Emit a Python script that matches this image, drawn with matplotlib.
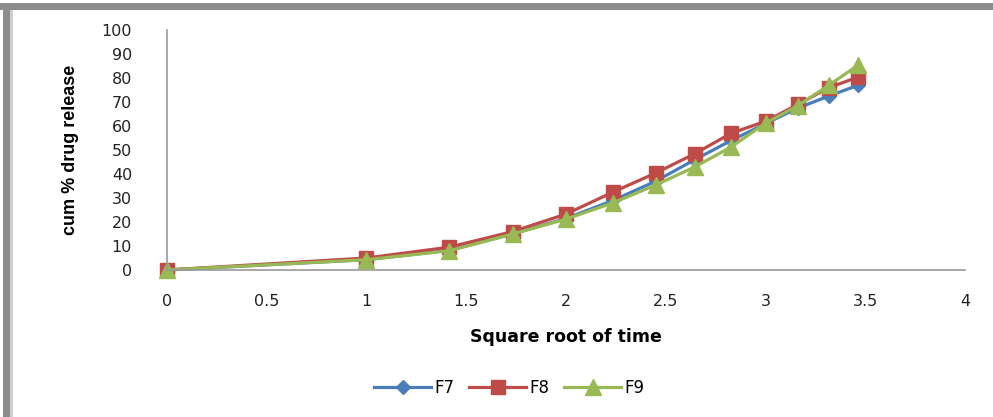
import matplotlib
matplotlib.use("Agg")
import matplotlib.pyplot as plt
from matplotlib import patches

# square root of time (h^0.5)
sqrt_time = [0, 1, 1.414, 1.732, 2, 2.236, 2.449, 2.646, 2.828, 3, 3.162, 3.317, 3.464]
f7 = [0, 4.3, 8.2, 15, 21.5, 29, 37, 46, 54, 61, 67.5, 72.5, 77]
f8 = [0, 5, 9.5, 16, 23.3, 32.5, 40.4, 48.5, 57, 62, 69, 76, 80.4]
f9 = [0, 4.3, 8, 15, 21.2, 28, 35.4, 43, 51.3, 61.2, 68.5, 77, 85.4]

x_ticks = [0, 0.5, 1, 1.5, 2, 2.5, 3, 3.5, 4]
x_labels = ["0", "0.5", "1", "1.5", "2", "2.5", "3", "3.5", "4"]
y_ticks = list(range(0, 101, 10))

plt.rcParams["font.family"] = ["DejaVu Sans"]

fig = plt.figure(figsize=(9.93, 4.17), dpi=100)
ax = fig.add_axes([0.168, 0.3525, 0.804, 0.5755])

ax.plot(sqrt_time, f7, color="#4A7EBB", lw=2.3, marker="D", ms=7, label="F7", clip_on=False)
ax.plot(sqrt_time, f8, color="#BE4B48", lw=2.3, marker="s", ms=10, label="F8", clip_on=False)
ax.plot(sqrt_time, f9, color="#98B954", lw=2.3, marker="^", ms=11, label="F9", clip_on=False)

ax.set_xlim(0, 4)
ax.set_ylim(0, 100)
ax.set_xticks(x_ticks)
ax.set_xticklabels(x_labels)
ax.set_yticks(y_ticks)
ax.tick_params(axis="both", length=0, labelsize=11.5, colors="#222222")
ax.tick_params(axis="x", pad=17)
ax.tick_params(axis="y", pad=25)

for side in ["top", "right"]:
    ax.spines[side].set_visible(False)
for side in ["left", "bottom"]:
    ax.spines[side].set_color("#999999")
    ax.spines[side].set_linewidth(1.2)

ax.set_xlabel("Square root of time", fontsize=12.5, fontweight="bold", labelpad=14)
ax.set_ylabel("cum % drug release", family="Liberation Sans",
              fontsize=13, fontweight="bold", labelpad=16)

leg = fig.legend(loc="center", bbox_to_anchor=(0.513, 0.07), ncol=3,
                 frameon=False, fontsize=12, handlelength=3.4,
                 columnspacing=0.9, handletextpad=0.2)

# gray frame on top and left edges
fig.patches.append(patches.Rectangle((0, 1 - 10 / 417), 1, 7 / 417, transform=fig.transFigure,
                                     facecolor="#8c8c8c", edgecolor="none"))
fig.patches.append(patches.Rectangle((3 / 993, 0), 7 / 993, 1 - 3 / 417, transform=fig.transFigure,
                                     facecolor="#8c8c8c", edgecolor="none"))
fig.patches.append(patches.Rectangle((10 / 993, 0), 3 / 993, 1 - 10 / 417, transform=fig.transFigure,
                                     facecolor="#d0d0d0", edgecolor="none"))

fig.savefig("out.png", dpi=100)
